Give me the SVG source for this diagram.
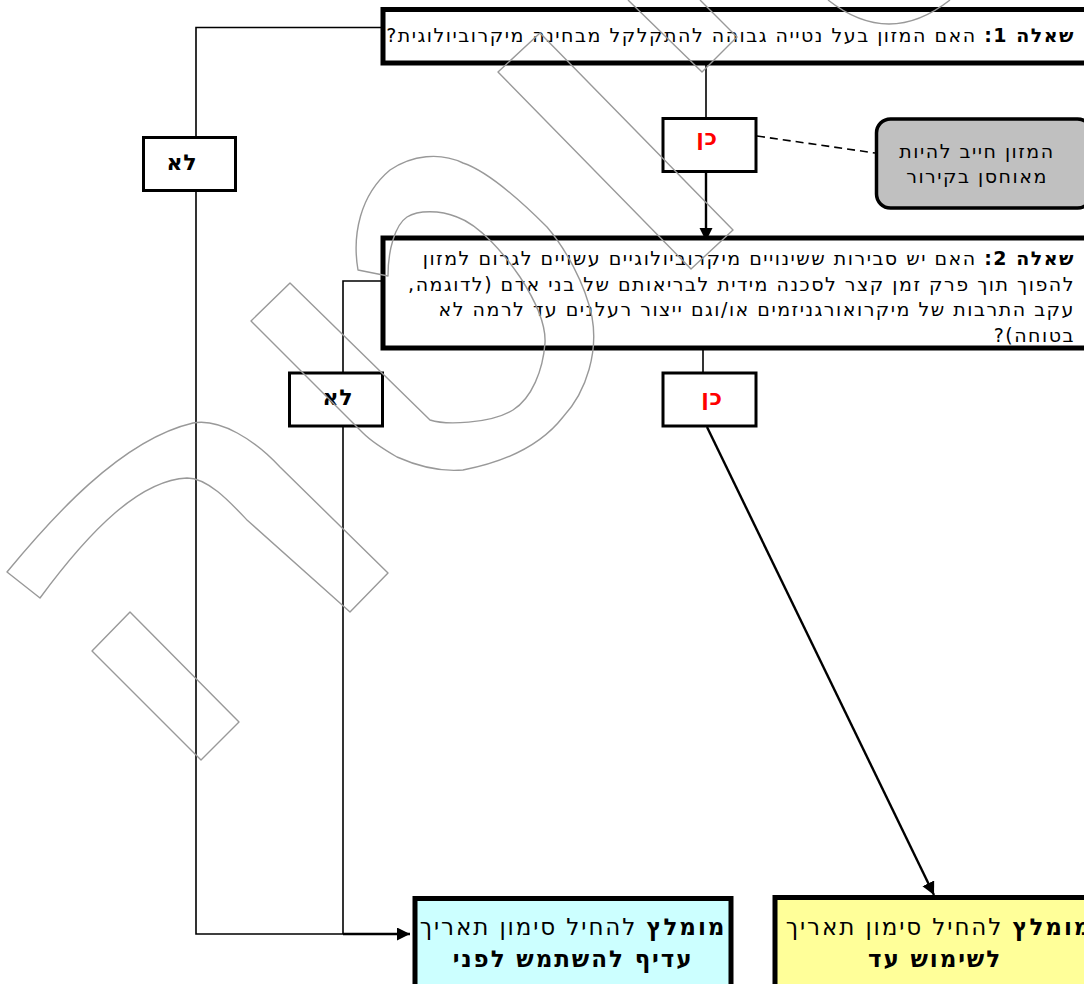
<svg xmlns="http://www.w3.org/2000/svg" width="1084" height="984" viewBox="0 0 1084 984">
<style>
text{font-family:"DejaVu Sans","Noto Sans",sans-serif;}
.q{font-size:19px;letter-spacing:1.5px;fill:#000;direction:rtl;text-anchor:start;}
.b{font-weight:bold;}
.lbl{font-size:22px;letter-spacing:0.8px;font-weight:bold;text-anchor:middle;}
.yes{fill:#ff0000;}
.no{fill:#000;}
.big{fill:#fff;stroke:#000;stroke-width:5;}
.small{fill:#fff;stroke:#000;stroke-width:3;}
.res{font-size:23px;letter-spacing:1.9px;text-anchor:middle;direction:rtl;}
.note{font-size:19px;letter-spacing:1.5px;text-anchor:middle;direction:rtl;}
.ln{fill:none;stroke:#000;stroke-width:1.6;}
.ln2{fill:none;stroke:#000;stroke-width:2.4;}
.wm{fill:none;stroke:#999;stroke-width:1.4;stroke-linejoin:round;}
</style>
<defs>
<marker id="ah" markerUnits="userSpaceOnUse" markerWidth="14" markerHeight="14" refX="13" refY="6.5" orient="auto">
<path d="M0,0 L13,6.5 L0,13 z" fill="#000"/>
</marker>
</defs>
<rect width="1084" height="984" fill="#fff"/>

<g id="connectors">
<polyline class="ln" points="383,27.5 196,27.5 196,136"/>
<polyline class="ln" points="196,192 196,934 343,934"/>
<line class="ln2" x1="343" y1="934" x2="410" y2="934" marker-end="url(#ah)"/>
<polyline class="ln" points="383,281 343,281 343,372"/>
<line class="ln" x1="343" y1="427" x2="343" y2="934"/>
<line class="ln" x1="706" y1="63" x2="706" y2="118"/>
<line class="ln2" x1="706" y1="172" x2="706" y2="241" marker-end="url(#ah)"/>
<line class="ln" x1="757" y1="136" x2="875" y2="153" stroke-dasharray="8,5"/>
<line class="ln" x1="703" y1="348" x2="703" y2="372"/>
<line class="ln2" x1="707" y1="427" x2="934" y2="895" marker-end="url(#ah)"/>
</g>

<g id="q1">
<rect class="big" x="383" y="9.5" width="710" height="53.5"/>
<text class="q" x="1075" y="42"><tspan class="b">שאלה 1:</tspan> האם המזון בעל נטייה גבוהה להתקלקל מבחינה מיקרוביולוגית?</text>
</g>

<g id="yes1">
<rect class="small" x="663" y="118.5" width="93" height="53"/>
<text class="lbl yes" x="707" y="145">כן</text>
</g>

<g id="note">
<rect x="876.5" y="119" width="215" height="89" rx="14" ry="14" fill="#c0c0c0" stroke="#000" stroke-width="3.5"/>
<text class="note" x="977" y="158">המזון חייב להיות</text>
<text class="note" x="977" y="183">מאוחסן בקירור</text>
</g>

<g id="no1">
<rect class="small" x="143.5" y="137.5" width="92" height="53"/>
<text class="lbl no" x="182" y="170">לא</text>
</g>

<g id="q2">
<rect class="big" x="383" y="238" width="710" height="110"/>
<text class="q" x="1075" y="265"><tspan class="b">שאלה 2:</tspan> האם יש סבירות ששינויים מיקרוביולוגיים עשויים לגרום למזון</text>
<text class="q" x="1075" y="290.5">להפוך תוך פרק זמן קצר לסכנה מידית לבריאותם של בני אדם (לדוגמה,</text>
<text class="q" x="1075" y="316">עקב התרבות של מיקרואורגניזמים או/וגם ייצור רעלנים עד לרמה לא</text>
<text class="q" x="1075" y="341.5">בטוחה)?</text>
</g>

<g id="no2">
<rect class="small" x="289.5" y="373" width="93" height="53"/>
<text class="lbl no" x="338" y="405">לא</text>
</g>

<g id="yes2">
<rect class="small" x="663" y="373" width="93" height="53"/>
<text class="lbl yes" x="712" y="405">כן</text>
</g>

<g id="result-cyan">
<rect x="415" y="898.5" width="316" height="100" fill="#ccffff" stroke="#000" stroke-width="5"/>
<text class="res" x="573" y="935"><tspan class="b">מומלץ</tspan> להחיל סימון תאריך</text>
<text class="res b" x="573" y="967">עדיף להשתמש לפני</text>
</g>

<g id="result-yellow">
<rect x="775" y="897.5" width="330" height="100" fill="#ffff99" stroke="#000" stroke-width="5"/>
<text class="res" x="939" y="935"><tspan class="b">מומלץ</tspan> להחיל סימון תאריך</text>
<text class="res b" x="935" y="967">לשימוש עד</text>
</g>

<g id="watermark">
<polygon class="wm" points="498,72 540,33 733,230 691,269"/>
<polyline class="wm" points="628,0 702,72 737,37 700,0"/>
<path class="wm" d="M828,0 Q889,48 950,0"/>
<path class="wm" d="M358,270 C352,235 360,195 390,170 C412,155 440,152 463,163 C490,172 525,205 547,227 C565,248 585,283 592,317 C598,350 588,390 563,417 C545,440 515,460 463,470 C440,472 415,465 397,457 C385,450 373,443 363,433 L251,321 L290,283 L430,420 C445,425 490,424 513,410 C532,398 543,370 545,343 C546,325 535,300 520,277 C505,255 480,225 457,217 C440,210 418,210 407,217 C395,225 388,250 388,276 Z"/>
<path class="wm" d="M7,572 C50,520 120,440 193,423 C220,418 255,440 280,467 L388,573 L350,612 L247,520 C230,502 208,478 187,478 C140,480 90,530 40,598 Z"/>
<polygon class="wm" points="130,612 92,651 201,760 239,722"/>
</g>
</svg>
